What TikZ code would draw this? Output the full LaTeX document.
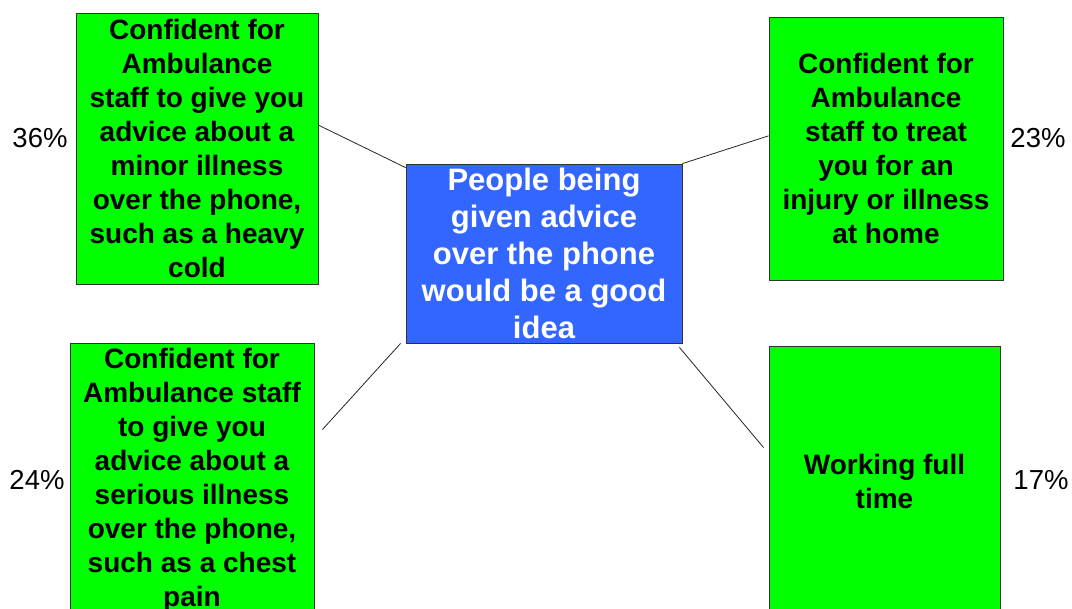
\documentclass[tikz,border=0pt]{standalone}
\usepackage{fontspec}
\setmainfont{Liberation Sans}
\usetikzlibrary{calc}
\definecolor{boxgreen}{HTML}{00FF00}
\definecolor{boxblue}{HTML}{3366FF}
\tikzset{
  greenbox/.style={draw=black!80, line width=0.8pt, fill=boxgreen, inner sep=0pt, align=center,
    font=\fontsize{28}{34}\selectfont\bfseries, text=black},
  bluebox/.style={draw=black!80, line width=0.8pt, fill=boxblue, inner sep=0pt, align=center,
    font=\fontsize{31}{37}\selectfont\bfseries, text=white},
  pct/.style={inner sep=0pt, font=\fontsize{27.5}{33}\selectfont, text=black},
  link/.style={draw=black!85, line width=0.8pt}
}
\begin{document}
\begin{tikzpicture}[x=1pt,y=-1pt]
\clip (0,0) rectangle (1072,609);
\fill[white] (0,0) rectangle (1072,609);

\node[greenbox, minimum width=242pt, minimum height=271pt] (tl) at (197,148.5)
  {Confident for\\Ambulance\\staff to give you\\advice about a\\minor illness\\over the phone,\\such as a heavy\\cold};
\node[greenbox, minimum width=234pt, minimum height=263pt] (tr) at (886,148.5)
  {Confident for\\Ambulance\\staff to treat\\you for an\\injury or illness\\at home};
\node[bluebox, minimum width=276pt, minimum height=179pt] (c) at (544,253.5)
  {People being\\given advice\\over the phone\\would be a good\\idea};
\node[greenbox, minimum width=244pt, minimum height=274pt] (bl) at (192,480)
  {Confident for\\Ambulance staff\\to give you\\advice about a\\serious illness\\over the phone,\\such as a chest\\pain};
\node[greenbox, minimum width=231pt, minimum height=270pt] (br) at (884.5,481)
  {Working full\\time};

\node[pct] (p36) at (40,138) {36\%};
\node[pct] (p23) at (1038,138) {23\%};
\node[pct] (p24) at (37,480) {24\%};
\node[pct] (p17) at (1041,480) {17\%};

\draw[link] ($(tl.north east)!0.414!(tl.south east)$) -- ($(c.north west)+(0,4)$);
\draw[link] (c.north east) -- ($(tr.north west)!0.452!(tr.south west)$);
\draw[link] ($(bl.north east)+(8,87)$) -- ($(c.south west)+(-5,0)$);
\draw[link] ($(c.south east)+(-3,4)$) -- ($(br.north west)+(-5,102)$);
\end{tikzpicture}
\end{document}
